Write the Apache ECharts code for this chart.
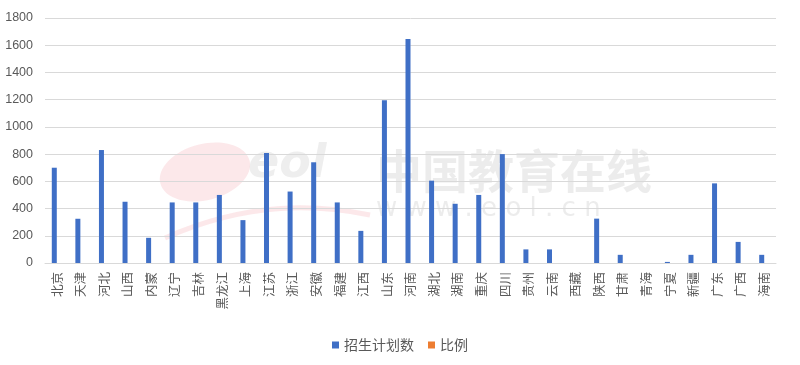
<!DOCTYPE html>
<html><head><meta charset="utf-8">
<script src="https://cdn.jsdelivr.net/npm/echarts@6/dist/echarts.min.js"></script>
<style>html,body{margin:0;padding:0;background:#fff}#c{width:800px;height:365px}</style>
</head><body><div id="c"></div>
<script>
const categories = ['北京','天津','河北','山西','内蒙','辽宁','吉林','黑龙江','上海','江苏','浙江','安徽','福建','江西','山东','河南','湖北','湖南','重庆','四川','贵州','云南','西藏','陕西','甘肃','青海','宁夏','新疆','广东','广西','海南'];
const planCounts = [700,325,830,450,185,445,445,500,315,808,525,740,445,236,1195,1645,605,435,500,800,100,100,0,326,60,0,8,60,585,155,60];
const ratios = [0,0,0,0,0,0,0,0,0,0,0,0,0,0,0,0,0,0,0,0,0,0,0,0,0,0,0,0,0,0,0];
const seriesNames = ['招生计划数','比例'];
const yTicks = {min:0, max:1800, interval:200};

const chart = echarts.init(document.getElementById('c'));
const font = '"Noto Sans CJK SC", "Liberation Sans", sans-serif';
chart.setOption({
  animation:false,
  textStyle:{fontFamily:font},
  graphic:[
    {type:'ellipse', shape:{cx:205, cy:172, rx:46, ry:28}, rotation:0.25, originX:205, originY:172, style:{fill:'rgba(240,150,160,0.22)'}, z:-10},
    {type:'bezierCurve', shape:{x1:165,y1:238,x2:370,y2:215,cpx1:250,cpy1:200,cpx2:320,cpy2:205}, style:{stroke:'rgba(240,150,160,0.22)', lineWidth:5, fill:null}, z:-10},
    {type:'text', left:248, top:142, style:{text:'eol', font:'italic bold 46px "DejaVu Sans"', fill:'rgba(150,150,150,0.16)'}, z:-10},
    {type:'text', left:376, top:148, style:{text:'中国教育在线', font:'bold 46px "Noto Sans CJK SC"', fill:'rgba(170,170,170,0.22)'}, z:-10},
    {type:'text', left:376, top:196, style:{text:'w w w . e o l . c n', font:'26px "DejaVu Sans"', fill:'rgba(170,170,170,0.22)'}, z:-10}
  ],
  legend:{
    data:seriesNames, bottom:8, left:'center', itemWidth:7, itemHeight:7, itemGap:14,
    icon:'rect', textStyle:{fontSize:14, color:'#595959', fontFamily:font}
  },
  grid:{left:45, right:24, top:18, bottom:102},
  xAxis:{
    type:'category', data:categories,
    axisLine:{lineStyle:{color:'#d9d9d9'}}, axisTick:{show:false},
    axisLabel:{rotate:90, interval:0, fontSize:12.5, color:'#595959', margin:9, fontFamily:font}
  },
  yAxis:{
    type:'value', min:yTicks.min, max:yTicks.max, interval:yTicks.interval,
    axisLine:{show:false}, axisTick:{show:false},
    axisLabel:{fontSize:12.5, color:'#595959', margin:12, fontFamily:'"Liberation Sans", sans-serif', formatter:function(v){return String(v);}},
    splitLine:{lineStyle:{color:'#d9d9d9', width:1}}
  },
  series:[
    {name:seriesNames[0], type:'bar', data:planCounts, barWidth:5, barGap:'0%',
     itemStyle:{color:'#3f6fc6'}},
    {name:seriesNames[1], type:'bar', data:ratios, barWidth:5,
     itemStyle:{color:'#ED7D31'}}
  ]
});
</script></body></html>
